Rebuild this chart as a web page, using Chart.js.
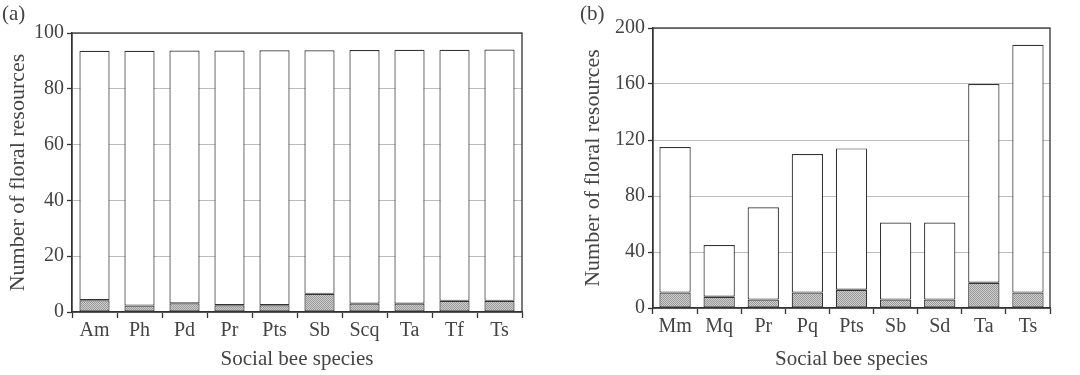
<!DOCTYPE html>
<html lang="en">
<head>
    <meta charset="UTF-8">
    <title>Floral resources</title>
    <style>
        body { margin: 0; background: #fff; }
        .painel { position: absolute; top: 0; width: 540px; height: 375px; }
        .rotulo { position: absolute; top: 1px; font: 21px "Liberation Serif", serif; color: #444; }
    </style>
</head>
<body>
    <div class="painel" style="left:0"><canvas id="chartA" width="540" height="375"></canvas></div>
    <div class="painel" style="left:540px"><canvas id="chartB" width="540" height="375"></canvas></div>
    <span class="rotulo" style="left:2px">(a)</span>
    <span class="rotulo" style="left:580px">(b)</span>

    <script src="https://cdn.jsdelivr.net/npm/chart.js"></script>

    <script>
    // painel (a)
    const especiesA = ['Am','Ph','Pd','Pr','Pts','Sb','Scq','Ta','Tf','Ts']
    const baseA = [4.2, 2.3, 3.1, 2.4, 2.4, 6.5, 3, 3, 4, 4]
    const totalA = [93.6, 93.6, 93.7, 93.7, 93.8, 93.8, 93.9, 94, 94, 94.1]
    const ticksA = [0, 20, 40, 60, 80, 100]

    // painel (b)
    const especiesB = ['Mm','Mq','Pr','Pq','Pts','Sb','Sd','Ta','Ts']
    const baseB = [11, 8, 6, 11, 13, 6, 6, 18, 11]
    const totalB = [115, 45, 72, 110, 114, 61, 61, 160, 188]
    const ticksB = [0, 40, 80, 120, 160, 200]

    const fonteTick = { family: '"Liberation Serif", serif', size: 20 }
    const fonteTitulo = { family: '"Liberation Serif", serif', size: 21 }
    const corTexto = '#444'
    const corLinha = '#333'

    // pontilhado fino cinza das barras de baixo
    const pontilhado = (ctx) => {
        const c = document.createElement('canvas')
        c.width = 2; c.height = 2
        const g = c.getContext('2d')
        g.fillStyle = '#cdcdcd'
        g.fillRect(0, 0, 2, 2)
        g.fillStyle = '#9a9a9a'
        g.fillRect(0, 0, 1, 1)
        g.fillRect(1, 1, 1, 1)
        return ctx.createPattern(c, 'repeat')
    }

    const moldura = {
        id: 'moldura',
        afterDraw(chart) {
            const { ctx, chartArea: a } = chart
            ctx.save()
            ctx.strokeStyle = corLinha
            ctx.lineWidth = 1.3
            ctx.strokeRect(a.left, a.top, a.right - a.left, a.bottom - a.top)
            ctx.restore()
        }
    }

    let desenha = (id, labels, base, total, ticks, opt) => {
        const ctx = document.getElementById(id).getContext('2d')
        const resto = total.map((t, i) => t - base[i])
        return new Chart(ctx, {
            type: 'bar',
            data: {
                labels: labels,
                datasets: [{
                    data: base,
                    backgroundColor: pontilhado(ctx),
                    borderColor: corLinha,
                    borderWidth: 1.2,
                    borderSkipped: false,
                    barPercentage: opt.barra,
                    categoryPercentage: 1
                }, {
                    data: resto,
                    backgroundColor: '#fff',
                    borderColor: corLinha,
                    borderWidth: 1.2,
                    borderSkipped: false,
                    barPercentage: opt.barra,
                    categoryPercentage: 1
                }]
            },
            options: {
                responsive: false,
                animation: false,
                layout: { padding: { top: opt.topo, right: opt.direita, left: 0, bottom: 0 } },
                plugins: { legend: { display: false }, tooltip: { enabled: false } },
                scales: {
                    x: {
                        stacked: true,
                        border: { color: corLinha, width: 1.3 },
                        grid: { offset: true, drawOnChartArea: false, tickLength: 6, tickColor: corLinha, tickWidth: 1.3 },
                        ticks: { font: fonteTick, color: corTexto, padding: 1, maxRotation: 0 },
                        title: { display: true, text: 'Social bee species', font: fonteTitulo, color: corTexto, padding: { top: 0, bottom: 3 } },
                        afterFit: (s) => { s.height = opt.baixo }
                    },
                    y: {
                        stacked: true,
                        min: 0,
                        max: ticks[ticks.length - 1],
                        afterBuildTicks: (s) => { s.ticks = ticks.map(v => ({ value: v })) },
                        border: { color: corLinha, width: 1.3 },
                        grid: { color: '#bdbdbd', borderDash: [1, 1], tickBorderDash: [], tickLength: 5, tickColor: corLinha, tickWidth: 1.3 },
                        ticks: { font: fonteTick, color: corTexto, padding: 3 },
                        title: { display: true, text: 'Number of floral resources', font: { family: fonteTitulo.family, size: 22 }, color: corTexto, padding: { top: opt.titulo, bottom: 0 } },
                        afterFit: (s) => { s.width = opt.esquerda }
                    }
                }
            },
            plugins: [moldura]
        })
    }

    desenha('chartA', especiesA, baseA, totalA, ticksA, { barra: 0.67, topo: 33, direita: 18, baixo: 63, esquerda: 72, titulo: 5 })
    desenha('chartB', especiesB, baseB, totalB, ticksB, { barra: 0.71, topo: 28, direita: 30, baixo: 67, esquerda: 113, titulo: 40 })
    </script>
</body>
</html>
